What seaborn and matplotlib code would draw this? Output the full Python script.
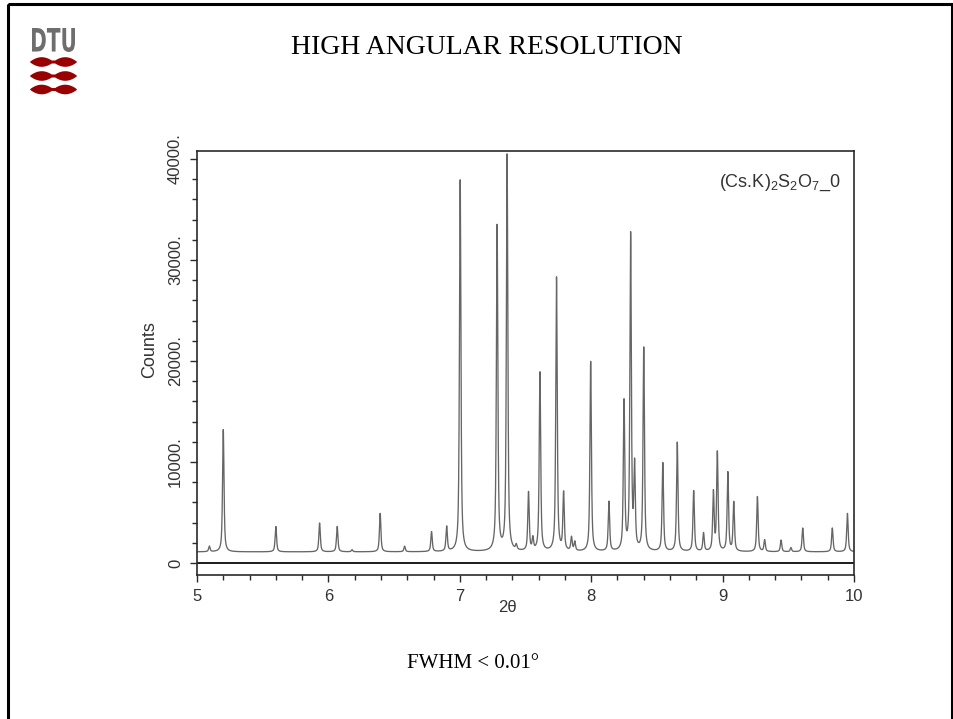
import numpy as np
import pandas as pd
import matplotlib
matplotlib.use("Agg")
import matplotlib.pyplot as plt
import seaborn as sns
from matplotlib import font_manager
from matplotlib.patches import Rectangle, PathPatch, Polygon
from matplotlib.textpath import TextPath
from matplotlib.font_manager import FontProperties
from matplotlib.transforms import Affine2D

# Reflection positions (degrees 2-theta) and peak maxima (counts)
peak_two_theta = [5.094, 5.200, 5.600, 5.933, 6.067, 6.180, 6.394, 6.580, 6.785,
                  6.900, 7.003, 7.284, 7.360, 7.430, 7.523, 7.556, 7.610, 7.736,
                  7.790, 7.850, 7.875, 7.996, 8.135, 8.250, 8.300, 8.330, 8.400,
                  8.545, 8.655, 8.780, 8.855, 8.930, 8.960, 9.040, 9.085, 9.265,
                  9.320, 9.445, 9.520, 9.610, 9.835, 9.950]
peak_counts = [1650, 13200, 3600, 3950, 3600, 1300, 4900, 1650, 3070,
               3550, 37900, 33300, 40300, 1600, 6900, 2300, 18800, 28200,
               6800, 2450, 2000, 19900, 6000, 15800, 32300, 9200, 21200,
               9850, 11900, 7100, 2900, 6900, 10850, 8900, 5950, 6550,
               2250, 2250, 1500, 3450, 3450, 4900]
background_counts = 1100

x_ticks = [5, 6, 7, 8, 9, 10]
x_tick_labels = ["5", "6", "7", "8", "9", "10"]
y_ticks = [0, 10000, 20000, 30000, 40000]
y_tick_labels = ["0", "10000.", "20000.", "30000.", "40000."]
sample_label = r"(Cs.K)$_2$S$_2$O$_7$_0"

# Pseudo-Voigt line profile for each reflection
fwhm = 0.013
eta = 0.7
two_theta = np.arange(5.0, 10.0005, 0.001)
counts = np.full_like(two_theta, float(background_counts))
hw = fwhm / 2
for pos, top in zip(peak_two_theta, peak_counts):
    amp = top - background_counts
    d = two_theta - pos
    lor = hw ** 2 / (d ** 2 + hw ** 2)
    gau = np.exp(-np.log(2) * (d / hw) ** 2)
    counts += amp * (eta * lor + (1 - eta) * gau)

df = pd.DataFrame({"2θ": two_theta, "Counts": counts})

sns.set_style("ticks")
names = {f.name for f in font_manager.fontManager.ttflist}
axis_font = "Liberation Sans Narrow" if "Liberation Sans Narrow" in names else "Liberation Sans"
plt.rcParams["font.family"] = [axis_font, "DejaVu Sans"]
plt.rcParams["mathtext.fontset"] = "custom"
plt.rcParams["mathtext.rm"] = axis_font
plt.rcParams["mathtext.default"] = "regular"

W, H = 954, 719
fig = plt.figure(figsize=(W / 100, H / 100), dpi=100)
fig.patch.set_facecolor("white")

# Slide decoration layer (pixel coordinates)
deco = fig.add_axes([0, 0, 1, 1], zorder=0)
deco.set_xlim(0, W)
deco.set_ylim(H, 0)
deco.axis("off")
deco.add_patch(Rectangle((8.5, 4), 944, 740, fill=False, lw=2.2, ec="black"))

# DTU logo
tp = TextPath((0, 0), "DTU", size=1, prop=FontProperties(family="DejaVu Sans", weight="bold"))
bb = tp.get_extents()
tr = Affine2D().translate(-bb.x0, -bb.y0).scale(43 / bb.width, -24 / bb.height).translate(32, 52)
deco.add_patch(PathPatch(tr.transform_path(tp), fc="#6e6e6e", ec="none"))
for yc in [62, 76, 89.5]:
    xs = np.linspace(30, 77, 240)
    s = np.abs(np.sin(np.pi * (xs - 30) / 23.5))
    half = np.maximum(4.8 * s ** 0.8, 1.5 * np.clip(np.minimum(xs - 30, 77 - xs) / 3, 0, 1))
    pts = np.concatenate([np.column_stack([xs, yc - half]), np.column_stack([xs[::-1], yc + half[::-1]])])
    deco.add_patch(Polygon(pts, closed=True, fc="#990000", ec="none"))

deco.text(487, 48, "HIGH ANGULAR RESOLUTION", family="Liberation Serif", fontsize=20,
          ha="center", va="center", color="black")
deco.text(473, 663, "FWHM < 0.01°", family="Liberation Serif", fontsize=15,
          ha="center", va="center", color="black")

# Diffraction pattern
ax = fig.add_axes([197 / W, 1 - 575 / H, 657 / W, 424 / H], zorder=1)
ax.patch.set_alpha(0)
sns.lineplot(data=df, x="2θ", y="Counts", ax=ax, color="#666666", lw=0.95,
             estimator=None, sort=False)
ax.axhline(0, color="#1a1a1a", lw=1.4)
ax.set_xlim(5, 10)
ax.set_ylim(-1190, 40790)

for sp in ax.spines.values():
    sp.set_visible(True)
    sp.set_color("#2a2a2a")
    sp.set_linewidth(1.2)

ax.set_xticks(x_ticks)
ax.set_xticklabels(x_tick_labels)
ax.set_xticks(np.arange(5, 10.01, 0.2), minor=True)
ax.set_yticks(y_ticks)
ax.set_yticklabels(y_tick_labels, rotation=90, va="center")
ax.set_yticks(np.arange(0, 40001, 2000), minor=True)
ax.tick_params(which="major", direction="out", length=5, width=1.0, color="#2a2a2a",
               labelsize=12, labelcolor="#333333", pad=5)
ax.tick_params(which="minor", direction="out", length=3.5, width=1.0, color="#2a2a2a")

ax.set_xlabel("2θ", fontsize=12, color="#333333")
ax.xaxis.set_label_coords(0.473, -0.076)
ax.xaxis.label.set_va("center")
ax.set_ylabel("Counts", fontsize=13, color="#333333")
ax.yaxis.set_label_coords(-0.059, 0.531)

ax.text(0.979, 0.925, sample_label, transform=ax.transAxes, ha="right", va="center",
        fontsize=13, color="#333333")

fig.savefig("out.png", dpi=100)
